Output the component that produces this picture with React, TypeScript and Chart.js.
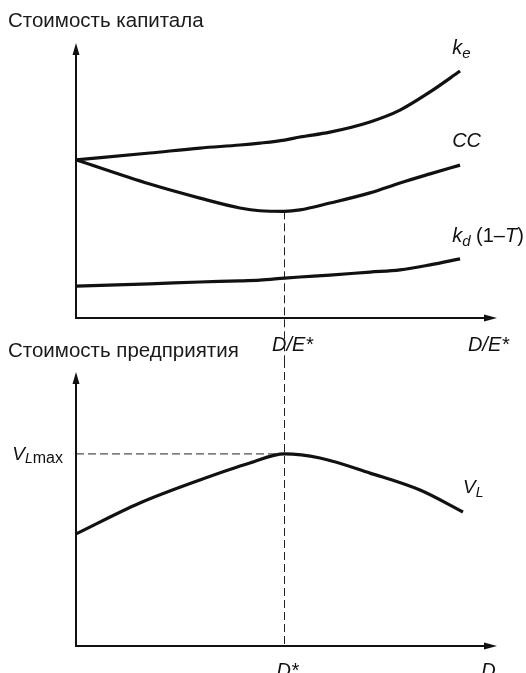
import React, { useEffect, useRef } from "react";
import { Chart, registerables } from "chart.js";
Chart.register(...registerables);

// ---- data (top panel: cost of capital vs D/E) ----
const X_TOP = [0, 1.77, 2.97, 3.93, 4.41, 5.0, 5.37, 6.09, 7.05, 7.77, 8.49, 9.21];
const KE = [5.75, 6.0, 6.18, 6.29, 6.36, 6.47, 6.58, 6.76, 7.13, 7.56, 8.22, 8.98];
const CC = [5.75, 4.87, 4.36, 4.0, 3.9, 3.88, 3.93, 4.18, 4.55, 4.91, 5.24, 5.56];
const KD = [1.16, 1.24, 1.31, 1.35, 1.38, 1.45, 1.49, 1.56, 1.67, 1.75, 1.93, 2.15];

// ---- data (bottom panel: firm value vs D) ----
const X_BOT = [0, 1.53, 2.97, 4.17, 5.0, 5.85, 7.05, 8.25, 9.28];
const VL = [4.09, 5.22, 6.06, 6.68, 7.01, 6.86, 6.31, 5.69, 4.89];

const TOP_TICK_VALUES = [5, 9.7];
const TOP_TICK_LABELS = ["D/E*", "D/E*"];
const BOT_TICK_VALUES = [5, 9.82];
const BOT_TICK_LABELS = ["D*", "D"];

const TOP_TITLE = "Стоимость капитала";
const BOT_TITLE = "Стоимость предприятия";

const FONT = "'Liberation Sans', Arial, Helvetica, sans-serif";
const INK = "#111";

type Part = { t: string; it?: boolean; s?: number; dy?: number };

const TOP_LABELS: { x: number; y: number; parts: Part[] }[] = [
  { x: 9.02, y: 9.6, parts: [{ t: "k", it: true }, { t: "e", it: true, s: 15, dy: 4 }] },
  { x: 9.02, y: 6.22, parts: [{ t: "CC", it: true }] },
  {
    x: 9.02,
    y: 2.76,
    parts: [
      { t: "k", it: true },
      { t: "d", it: true, s: 15, dy: 4 },
      { t: " (1–" },
      { t: "T", it: true },
      { t: ")" },
    ],
  },
];
const BOT_LABELS: { x: number; y: number; parts: Part[] }[] = [
  { x: 9.28, y: 5.58, parts: [{ t: "V", it: true, s: 19 }, { t: "L", it: true, s: 14, dy: 4 }] },
];
const VLMAX_PARTS: Part[] = [
  { t: "V", it: true, s: 19 },
  { t: "L", it: true, s: 14, dy: 3 },
  { t: "max", s: 16, dy: 3 },
];

const TOP_H = 360;
const BOT_TOP = 329;
const BOT_H = 673 - BOT_TOP;

function drawRich(ctx: CanvasRenderingContext2D, x: number, y: number, parts: Part[], align: "left" | "right" = "left") {
  ctx.save();
  ctx.fillStyle = INK;
  ctx.textBaseline = "alphabetic";
  ctx.textAlign = "left";
  const fontOf = (p: Part) => `${p.it ? "italic " : ""}${p.s ?? 20}px ${FONT}`;
  let total = 0;
  for (const p of parts) {
    ctx.font = fontOf(p);
    total += ctx.measureText(p.t).width;
  }
  let cx = align === "right" ? x - total : x;
  for (const p of parts) {
    ctx.font = fontOf(p);
    ctx.fillText(p.t, cx, y + (p.dy ?? 0));
    cx += ctx.measureText(p.t).width;
  }
  ctx.restore();
}

function drawAxes(ctx: CanvasRenderingContext2D, a: { left: number; right: number; top: number; bottom: number }) {
  ctx.save();
  ctx.strokeStyle = INK;
  ctx.fillStyle = INK;
  ctx.lineWidth = 2;
  ctx.beginPath();
  ctx.moveTo(a.left, a.top + 8);
  ctx.lineTo(a.left, a.bottom);
  ctx.lineTo(a.right, a.bottom);
  ctx.stroke();
  // up arrow
  ctx.beginPath();
  ctx.moveTo(a.left, a.top);
  ctx.lineTo(a.left - 3.5, a.top + 12);
  ctx.lineTo(a.left + 3.5, a.top + 12);
  ctx.closePath();
  ctx.fill();
  // right arrow
  ctx.beginPath();
  ctx.moveTo(a.right + 4, a.bottom);
  ctx.lineTo(a.right - 9, a.bottom - 3.5);
  ctx.lineTo(a.right - 9, a.bottom + 3.5);
  ctx.closePath();
  ctx.fill();
  ctx.restore();
}

function dashed(ctx: CanvasRenderingContext2D, x1: number, y1: number, x2: number, y2: number) {
  ctx.save();
  ctx.strokeStyle = "#222";
  ctx.lineWidth = 1;
  ctx.setLineDash([8, 4]);
  ctx.beginPath();
  ctx.moveTo(x1, y1);
  ctx.lineTo(x2, y2);
  ctx.stroke();
  ctx.restore();
}

function baseOptions(tickValues: number[], tickLabels: string[], labelOffset: number, tickPad: number, xHeight: number) {
  return {
    responsive: false,
    animation: false as const,
    layout: { padding: { left: 76, right: 33, top: 43, bottom: 0 } },
    plugins: { legend: { display: false }, tooltip: { enabled: false }, title: { display: false } },
    elements: { point: { radius: 0 } },
    scales: {
      x: {
        type: "linear" as const,
        min: 0,
        max: 10,
        grid: { display: false, drawTicks: false },
        border: { display: false },
        afterBuildTicks: (s: any) => {
          s.ticks = tickValues.map((v) => ({ value: v }));
        },
        afterFit: (s: any) => {
          s.height = xHeight;
        },
        ticks: {
          autoSkip: false,
          maxRotation: 0,
          padding: tickPad,
          labelOffset,
          color: INK,
          font: { family: FONT, size: 20, style: "italic" as const },
          callback: (_v: any, i: number) => tickLabels[i],
        },
      },
      y: {
        type: "linear" as const,
        min: 0,
        max: 10,
        display: false,
      },
    },
  };
}

function lineDs(xs: number[], ys: number[]) {
  return {
    data: xs.map((x, i) => ({ x, y: ys[i] })),
    borderColor: INK,
    borderWidth: 3.2,
    fill: false,
    cubicInterpolationMode: "monotone" as const,
    pointRadius: 0,
  };
}

export default function App() {
  const topRef = useRef<HTMLCanvasElement>(null);
  const botRef = useRef<HTMLCanvasElement>(null);

  useEffect(() => {
    const ccMinIdx = CC.indexOf(Math.min(...CC));
    const xStarTop = X_TOP[ccMinIdx];

    const topPlugin = {
      id: "topDecor",
      beforeDatasetsDraw(chart: any) {
        const { ctx, scales } = chart;
        const px = scales.x.getPixelForValue(xStarTop);
        const py = scales.y.getPixelForValue(CC[ccMinIdx]);
        dashed(ctx, px, py, px, chart.height);
      },
      afterDraw(chart: any) {
        const { ctx, chartArea, scales } = chart;
        drawAxes(ctx, chartArea);
        ctx.save();
        ctx.fillStyle = "#1a1a1a";
        ctx.font = `20.5px ${FONT}`;
        ctx.textBaseline = "alphabetic";
        ctx.fillText(TOP_TITLE, 8, 27);
        ctx.restore();
        for (const l of TOP_LABELS) {
          drawRich(ctx, scales.x.getPixelForValue(l.x), scales.y.getPixelForValue(l.y), l.parts);
        }
      },
    };

    const vlMax = Math.max(...VL);
    const vlMaxIdx = VL.indexOf(vlMax);
    const xStarBot = X_BOT[vlMaxIdx];

    const botPlugin = {
      id: "botDecor",
      beforeDatasetsDraw(chart: any) {
        const { ctx, scales, chartArea } = chart;
        const px = scales.x.getPixelForValue(xStarBot);
        const py = scales.y.getPixelForValue(vlMax);
        dashed(ctx, px, TOP_H - BOT_TOP, px, chartArea.bottom);
        dashed(ctx, chartArea.left, py, px, py);
      },
      afterDraw(chart: any) {
        const { ctx, chartArea, scales } = chart;
        drawAxes(ctx, chartArea);
        ctx.save();
        ctx.fillStyle = "#1a1a1a";
        ctx.font = `20.5px ${FONT}`;
        ctx.textBaseline = "alphabetic";
        ctx.fillText(BOT_TITLE, 8, 28);
        ctx.restore();
        for (const l of BOT_LABELS) {
          drawRich(ctx, scales.x.getPixelForValue(l.x), scales.y.getPixelForValue(l.y), l.parts);
        }
        drawRich(ctx, chartArea.left - 13, scales.y.getPixelForValue(vlMax) + 6, VLMAX_PARTS, "right");
      },
    };

    const top = new Chart(topRef.current!, {
      type: "line",
      data: { datasets: [lineDs(X_TOP, KE), lineDs(X_TOP, CC), lineDs(X_TOP, KD)] },
      options: baseOptions(TOP_TICK_VALUES, TOP_TICK_LABELS, 8, 15, TOP_H - 318) as any,
      plugins: [topPlugin],
    });
    const bot = new Chart(botRef.current!, {
      type: "line",
      data: { datasets: [lineDs(X_BOT, VL)] },
      options: baseOptions(BOT_TICK_VALUES, BOT_TICK_LABELS, 3, 13, BOT_H - 317) as any,
      plugins: [botPlugin],
    });
    return () => {
      top.destroy();
      bot.destroy();
    };
  }, []);

  return (
    <div style={{ position: "absolute", left: 0, top: 0, width: 526, height: 673, background: "#fff" }}>
      <canvas ref={topRef} width={526} height={TOP_H} style={{ position: "absolute", left: 0, top: 0 }} />
      <canvas ref={botRef} width={526} height={BOT_H} style={{ position: "absolute", left: 0, top: BOT_TOP }} />
    </div>
  );
}
